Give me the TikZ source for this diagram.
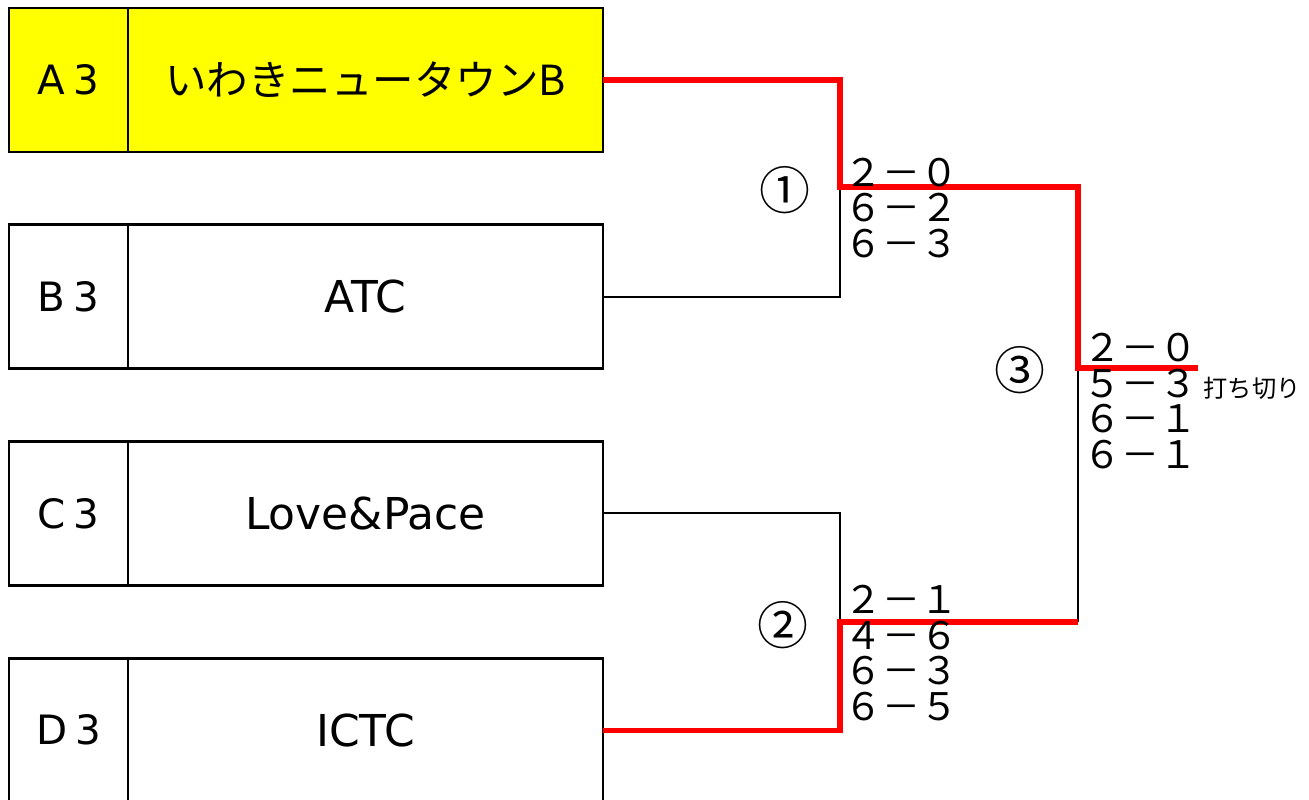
\documentclass[tikz,border=0pt]{standalone}
\usepackage{fontspec}
\setmainfont{DejaVu Sans}
\newfontfamily\jp{Noto Sans CJK JP}
\usetikzlibrary{positioning}
\definecolor{winred}{RGB}{255,0,0}
\definecolor{seedyellow}{RGB}{255,255,0}
\newcommand{\seed}[2]{#1\hspace{0.08cm}#2}

\begin{document}
\begin{tikzpicture}[
  every node/.style={font=\fontsize{12.5}{14}\selectfont},
  code/.style={draw, line width=0.8pt, outer sep=0pt, inner sep=0pt,
               minimum width=1.19cm, minimum height=1.44cm,
               font=\fontsize{11.5}{13}\selectfont},
  team/.style={draw, line width=0.8pt, outer sep=0pt, inner sep=0pt,
               minimum width=4.75cm, minimum height=1.44cm},
  lose/.style={line width=0.6pt},
  win/.style={draw=winred, line width=1.45pt},
  res/.style={font=\jp\fontsize{10.8}{10.1}\selectfont, align=left,
              anchor=base west, inner sep=0pt},
  note/.style={font=\jp\fontsize{6.9}{8}\selectfont, anchor=base west, inner sep=0pt},
  round/.style={font=\jp\fontsize{14.5}{15}\selectfont, inner sep=0pt}
]
\useasboundingbox (0,0) rectangle (13.09,-7.99);

% teams
\node[code, fill=seedyellow, anchor=north west] (a3) at (0.09,-0.08) {\seed A3};
\node[team, fill=seedyellow, right=0pt of a3, font=\jp\fontsize{11.8}{13}\selectfont] (teamA) {いわきニュータウンB};
\node[code, below=0.727cm of a3] (b3) {\seed B3};
\node[team, right=0pt of b3] (teamB) {ATC};
\node[code, below=0.727cm of b3] (c3) {\seed C3};
\node[team, right=0pt of c3] (teamC) {Love\&Pace};
\node[code, below=0.727cm of c3] (d3) {\seed D3};
\node[team, right=0pt of d3] (teamD) {ICTC};

% match points
\coordinate (m1) at (8.40,-1.87);
\coordinate (m2) at (8.40,-6.22);
\coordinate (m3) at (10.78,-3.68);
\coordinate (champ) at (11.98,-3.68);

% bracket
\draw[lose] (teamB.east) -| (m1);
\draw[lose] (teamC.east) -| (m2);
\draw[lose] (m2 -| m3) -- (m3);
\draw[win] (teamA.east) -| (m1) -| (m3) -- (champ);
\draw[win] (teamD.east) -| (m2) -- (m2 -| m3);

% results (base = last line)
\node[round] (r1) at (7.85,-1.90) {①};
\node[round] (r2) at (7.83,-6.25) {②};
\node[round] (r3) at (10.20,-3.70) {③};
\node[res] (res1) at (8.435,-2.57) {２－０\\６－２\\６－３};
\node[res] (res2) at (8.435,-7.20) {２－１\\４－６\\６－３\\６－５};
\node[res] (res3) at (10.825,-4.68) {２－０\\５－３\\６－１\\６－１};
\node[note] (stop) at (12.03,-3.97) {打ち切り};
\end{tikzpicture}
\end{document}
